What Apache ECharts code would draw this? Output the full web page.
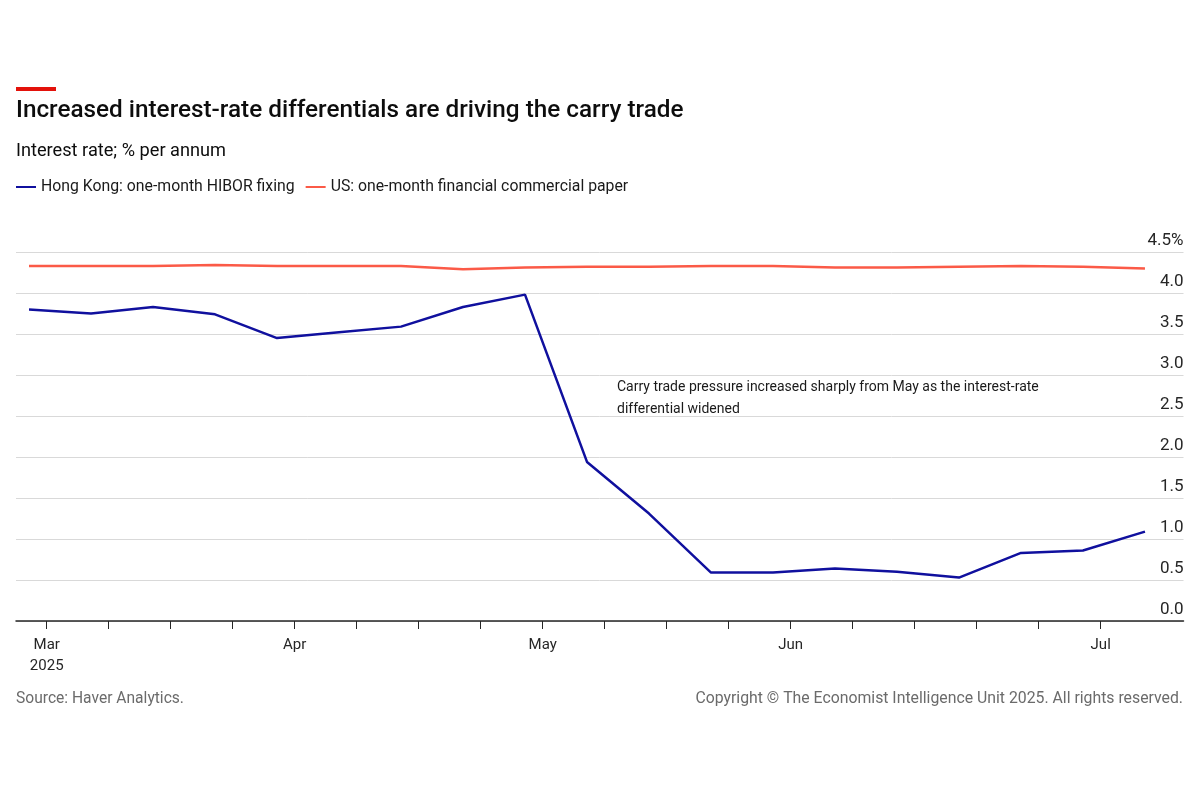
<!DOCTYPE html>
<html>
<head>
<meta charset="utf-8">
<script src="https://cdn.jsdelivr.net/npm/echarts@6/dist/echarts.min.js"></script>
<style>
html,body{margin:0;padding:0;background:#fff;}
#chart{width:1200px;height:800px;}
</style>
</head>
<body>
<div id="chart"></div>
<script>
// ---- Data ----
const dates = ['2025-02-28','2025-03-07','2025-03-14','2025-03-21','2025-03-28','2025-04-04','2025-04-11','2025-04-18','2025-04-25','2025-05-02','2025-05-09','2025-05-16','2025-05-23','2025-05-30','2025-06-06','2025-06-13','2025-06-20','2025-06-27','2025-07-04'];
const hkHibor = [3.80,3.75,3.83,3.74,3.45,3.52,3.59,3.83,3.98,1.94,1.31,0.59,0.59,0.64,0.60,0.53,0.83,0.86,1.09];
const usCP = [4.33,4.33,4.33,4.34,4.33,4.33,4.33,4.29,4.31,4.32,4.32,4.33,4.33,4.31,4.31,4.32,4.33,4.32,4.30];
const tickDates = ['2025-03-02','2025-03-09','2025-03-16','2025-03-23','2025-03-30','2025-04-06','2025-04-13','2025-04-20','2025-04-27','2025-05-04','2025-05-11','2025-05-18','2025-05-25','2025-06-01','2025-06-08','2025-06-15','2025-06-22','2025-06-29'];
const monthLabelDates = ['2025-03-02','2025-03-30','2025-04-27','2025-05-25','2025-06-29'];
const monthLabels = ['Mar\n2025','Apr','May','Jun','Jul'];
const seriesNames = ['Hong Kong: one-month HIBOR fixing','US: one-month financial commercial paper'];

// day number (UTC days since 1970-01-01)
function dn(d){ const p=d.split('-').map(Number); return Date.UTC(p[0],p[1]-1,p[2])/86400000; }
const hkData = dates.map((d,i)=>[dn(d),hkHibor[i]]);
const usData = dates.map((d,i)=>[dn(d),usCP[i]]);
const gapData = dates.map((d,i)=>[dn(d),+(usCP[i]-hkHibor[i]).toFixed(3)]);
const labelMap = {};
monthLabelDates.forEach((d,i)=>{labelMap[dn(d)] = monthLabels[i];});

const FONT = 'Roboto';
const chart = echarts.init(document.getElementById('chart'), null, {renderer:'canvas'});
chart.setOption({
  animation:false,
  textStyle:{fontFamily:FONT},
  graphic:[
    {type:'rect', left:16, top:87, shape:{width:40,height:4}, style:{fill:'#e3120b'}},
    {type:'text', left:16, top:99, style:{text:'Increased interest-rate differentials are driving the carry trade', font:'500 24.3px '+FONT, fill:'#0d0d0d'}},
    {type:'text', left:16, top:142, style:{text:'Interest rate; % per annum', font:'18.2px '+FONT, fill:'#0d0d0d'}},
    {type:'text', left:617, top:376, style:{text:'Carry trade pressure increased sharply from May as the interest-rate\ndifferential widened', font:'14px '+FONT, lineHeight:22, fill:'#1a1a1a'}},
    {type:'text', left:16, top:691, style:{text:'Source: Haver Analytics.', font:'15.6px '+FONT, fill:'#6b6b6b'}},
    {type:'text', right:17, top:691, style:{text:'Copyright © The Economist Intelligence Unit 2025. All rights reserved.', font:'15.8px '+FONT, fill:'#6b6b6b'}}
  ],
  legend:{
    left:16, top:179, padding:0, icon:'rect', itemWidth:20, itemHeight:2, itemGap:11,
    data:seriesNames, selectedMode:false,
    textStyle:{fontFamily:FONT, fontSize:15.8, color:'#1a1a1a'}
  },
  grid:{left:16, right:16.5, top:252, bottom:179, containLabel:false},
  xAxis:{
    type:'value',
    min: dn('2025-02-26') + 0.53,
    max: dn('2025-07-08') + 0.35,
    axisLine:{show:true, lineStyle:{color:'#262626', width:1.5}},
    axisTick:{show:true, length:8, lineStyle:{color:'#262626', width:1}, customValues: tickDates.map(dn)},
    axisLabel:{show:true, customValues: monthLabelDates.map(dn), formatter:(v)=>labelMap[v]||'', fontSize:15, color:'#262626', margin:14, lineHeight:21, fontFamily:FONT},
    splitLine:{show:false}
  },
  yAxis:{
    type:'value', position:'right', min:0, max:4.5, interval:0.5,
    axisLine:{show:false}, axisTick:{show:false},
    axisLabel:{inside:true, margin:0, fontSize:17, color:'#262626', verticalAlign:'bottom', padding:[0,0,3,0], fontFamily:FONT,
      formatter:(v)=> v===4.5 ? '4.5%' : v.toFixed(1)},
    splitLine:{show:true, lineStyle:{color:'#d9d9d9', width:1}}
  },
  series:[
    {name:'base', type:'line', stack:'gap', data:hkData, symbol:'none', lineStyle:{opacity:0}, silent:true, z:1},
    {name:'gap', type:'line', stack:'gap', data:gapData, symbol:'none', lineStyle:{opacity:0}, areaStyle:{color:'rgba(0,0,0,0.06)'}, silent:true, z:1},
    {name:seriesNames[1], type:'line', data:usData, symbol:'none', lineStyle:{color:'#fb5a47', width:2.5}, itemStyle:{color:'#fb5a47'}, z:3},
    {name:seriesNames[0], type:'line', data:hkData, symbol:'none', lineStyle:{color:'#10109e', width:2.5}, itemStyle:{color:'#10109e'}, z:4}
  ]
});
</script>
</body>
</html>
